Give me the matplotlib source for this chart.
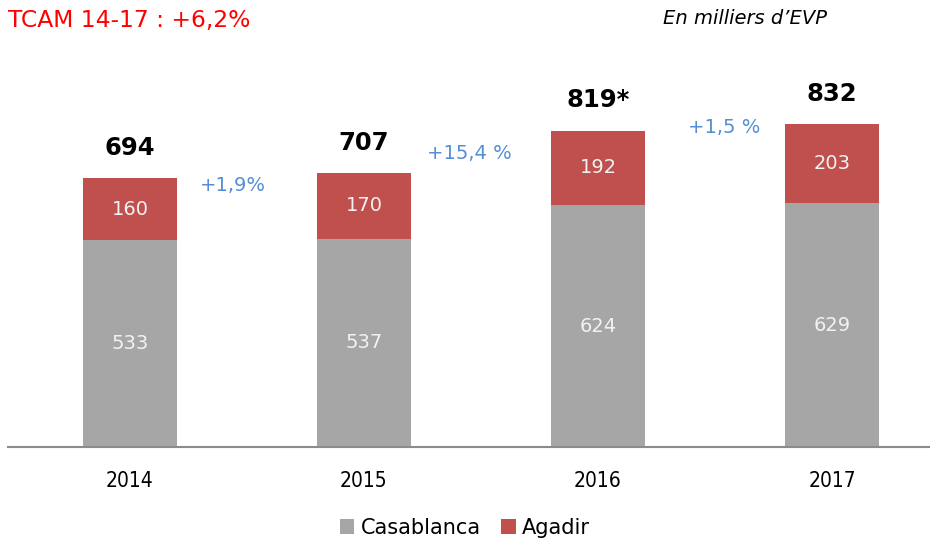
import numpy as np
import matplotlib
matplotlib.use("Agg")
import matplotlib.pyplot as plt

years = ["2014", "2015", "2016", "2017"]
casablanca = [533, 537, 624, 629]
agadir = [160, 170, 192, 203]
totals = ["694", "707", "819*", "832"]
growth = ["+1,9%", "+15,4 %", "+1,5 %"]
growth_pos = [(0.44, 675), (1.45, 758), (2.54, 825)]

gray = "#A6A6A6"
red = "#C0504D"
blue = "#558ED5"

plt.rcParams['font.family'] = ['DejaVu Sans']

fig = plt.figure(figsize=(9.3, 5.43), dpi=100)
ax = fig.add_axes([0.0086, 0.1768, 0.9914, 0.714])

x = np.arange(len(years))
w = 0.405
ax.bar(x, casablanca, w, color=gray, label="Casablanca")
ax.bar(x, agadir, w, bottom=casablanca, color=red, label="Agadir")

for i in range(len(years)):
    ax.text(x[i], casablanca[i] / 2, str(casablanca[i]), ha="center", va="center",
            color="#F2F2F2", fontsize=14)
    ax.text(x[i], casablanca[i] + agadir[i] / 2, str(agadir[i]), ha="center", va="center",
            color="#F2F2F2", fontsize=14)
    ax.text(x[i], casablanca[i] + agadir[i] + 78, totals[i], ha="center",
            va="center", fontsize=17.5, fontweight="bold", color="black")

for (gx, gy), g in zip(growth_pos, growth):
    ax.text(gx, gy, g, ha="center", va="center", color=blue, fontsize=14)

ax.set_xlim(-0.521, 3.419)
ax.set_ylim(0, 1000)
ax.set_yticks([])
ax.set_xticks(x)
ax.set_xticklabels(years, fontsize=15, fontstretch="condensed")
ax.tick_params(axis="x", length=0, pad=17)
for s in ["top", "right", "left"]:
    ax.spines[s].set_visible(False)
ax.spines["bottom"].set_color("#8C8C8C")
ax.spines["bottom"].set_linewidth(1.5)

fig.text(0.009, 0.963, "TCAM 14-17 : +6,2%", color="#FF0000", fontsize=16.8,
         ha="left", va="center")
fig.text(0.713, 0.966, "En milliers d\u2019EVP", fontstyle="italic", fontsize=14,
         ha="left", va="center")

fig.legend(loc="center", bbox_to_anchor=(0.5, 0.028), ncol=2, frameon=False,
           fontsize=15, handlelength=0.7, handleheight=0.7, handletextpad=0.3,
           columnspacing=1.0)

fig.savefig("out.png", dpi=100)
